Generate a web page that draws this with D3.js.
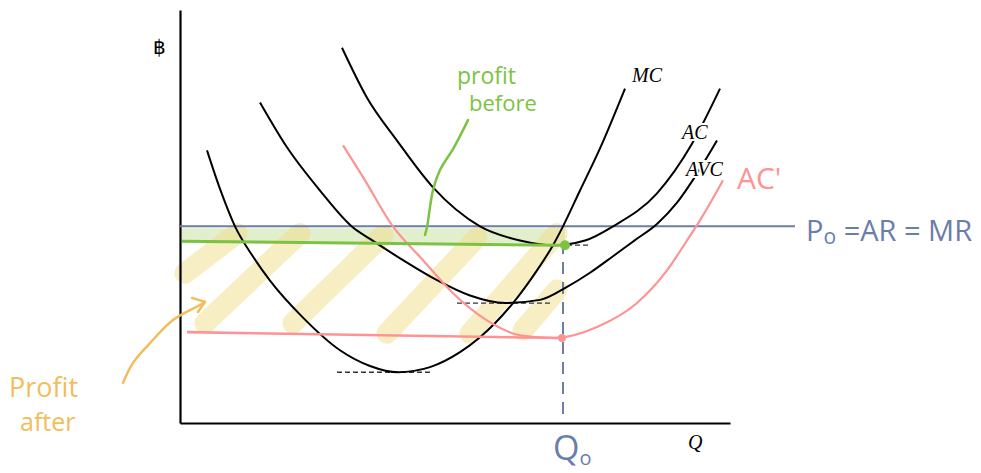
<!DOCTYPE html>
<html>
<head>
<meta charset="utf-8">
<script src="https://cdn.jsdelivr.net/npm/d3@7"></script>
<style>
  body { margin: 0; background: #fff; }
  svg { display: block; }
</style>
</head>
<body>
<div id="chart"></div>
<script>
// cost curves, [Q, price]
const mcCurve = [[5.4,69.3],[8,59.5],[11,50],[14.5,42.5],[18,36.2],[24.6,26.8],[32,18.5],[38,14.5],[43.6,12.9],[50,14.2],[56,18],[60,21.8],[66.6,30.5],[71.4,38.8],[74.6,45.2],[76.6,50],[80,59.1],[84,69.8],[89,85]];
const acCurve = [[32.4,95.4],[37.4,82.7],[43.4,71.8],[50.6,59.9],[60,50],[68,46.4],[74.6,45.2],[81,46.4],[86.6,50],[95.4,58.4],[102.4,71],[108,85]];
const avcCurve = [[16,81.5],[21.4,70.1],[28,59.1],[34.6,49.7],[38,46.8],[44.6,41.4],[51.4,36.3],[58,32.4],[65,30.5],[72,31.3],[77.4,34.6],[82,38.2],[86.6,42.4],[91,46.5],[95.4,50.6],[99.4,56],[102.6,61.8],[107.4,71.8]];
const acPrimeCurve = [[32.6,70.6],[37,61.7],[42.4,50.3],[48.6,41.4],[54.6,33],[61.4,26.1],[68,22.3],[75,21.6],[83.4,24.4],[91.4,30.5],[97.4,38.8],[101.4,46.4],[104,51.5],[108.6,61.7]];

const priceP0 = 50;
const quantityQ0 = 76.6;
const profitBefore = {q0: 0.4, q1: 77, top: 49.5, bottom: 45.7};
const greenLine = [[0.4,46.2],[77,45.2]];
const pinkLine = [[1.4,23.1],[76.4,21.6]];
// dashed minimum markers: [q0, q1, p]
const minMarks = [[64.6,82,45.2],[55.4,74,30.5],[31.4,50,12.9]];
// hatch strokes for "profit after"
const hatch = [
    [[1,38.1],[11.4,48.2]],
    [[5,25.4],[24,48.2]],
    [[22.6,25.4],[40.6,47.7]],
    [[41.4,22.8],[59.4,47.2]],
    [[58,22.8],[75.4,48.2]],
    [[68.6,23.6],[75.4,33.8]]
];
const greenPointer = [[57.6,77],[54.8,70.1],[52,64.3],[50.6,59.2],[49.4,49.8],[49,47.8]];
const orangeArrow = [[-11.4,10.2],[-9.4,15.3],[-6,20.3],[-1.4,26.2],[4,30],[5,30.8]];
const arrowHead = [[2.4,31.8],[5,30.8],[3.6,28.2]];

const width = 981, height = 473;
const blue = "#6b7dab", green = "#7cc243", pink = "#ff9393", orange = "#f2bd5a";

const svg = d3.select("#chart").append("svg")
    .attr("width", width)
    .attr("height", height);

const x = d3.scaleLinear().domain([0, 110]).range([180, 730]);
const y = d3.scaleLinear().domain([0, 105]).range([423, 10]);

const line = d3.line().x(d => x(d[0])).y(d => y(d[1]));
const smooth = d3.line().x(d => x(d[0])).y(d => y(d[1])).curve(d3.curveMonotoneX);
const sketch = d3.line().x(d => x(d[0])).y(d => y(d[1])).curve(d3.curveCatmullRom);

// profit before band
svg.append("rect")
    .attr("x", x(profitBefore.q0))
    .attr("y", y(profitBefore.top))
    .attr("width", x(profitBefore.q1) - x(profitBefore.q0))
    .attr("height", y(profitBefore.bottom) - y(profitBefore.top))
    .attr("fill", "#c5e09a")
    .attr("opacity", 0.5);

// hatch
svg.append("g").selectAll("path")
    .data(hatch)
    .enter()
    .append("path")
    .attr("d", line)
    .attr("stroke", "#f2de8a")
    .attr("stroke-opacity", 0.5)
    .attr("stroke-width", 21)
    .attr("stroke-linecap", "round")
    .attr("fill", "none");

// axes
svg.append("g")
    .attr("transform", `translate(${x(0)},0)`)
    .call(d3.axisLeft(y).ticks(0).tickSizeOuter(0))
    .call(g => g.select(".domain").attr("stroke", "#000").attr("stroke-width", 2.2));
svg.append("g")
    .attr("transform", `translate(0,${y(0)})`)
    .call(d3.axisBottom(x).ticks(0).tickSizeOuter(0))
    .call(g => g.select(".domain").attr("stroke", "#000").attr("stroke-width", 2.2));

// dashed minimum lines
svg.append("g").selectAll("line")
    .data(minMarks)
    .enter()
    .append("line")
    .attr("x1", d => x(d[0]))
    .attr("x2", d => x(d[1]))
    .attr("y1", d => y(d[2]))
    .attr("y2", d => y(d[2]))
    .attr("stroke", "#333")
    .attr("stroke-width", 1.3)
    .attr("stroke-dasharray", "5,3");

// Q0 dashed vertical
svg.append("line")
    .attr("x1", x(quantityQ0)).attr("x2", x(quantityQ0))
    .attr("y1", y(46)).attr("y2", y(1.8))
    .attr("stroke", blue)
    .attr("stroke-width", 2)
    .attr("stroke-dasharray", "12,8");

// P0 = AR = MR
svg.append("line")
    .attr("x1", x(0)).attr("x2", x(123))
    .attr("y1", y(priceP0)).attr("y2", y(priceP0))
    .attr("stroke", blue)
    .attr("stroke-width", 2);

// cost curves
[mcCurve, acCurve, avcCurve].forEach(c => {
    svg.append("path")
        .attr("d", smooth(c))
        .attr("fill", "none")
        .attr("stroke", "#000")
        .attr("stroke-width", 2);
});
svg.append("path")
    .attr("d", smooth(acPrimeCurve))
    .attr("fill", "none")
    .attr("stroke", pink)
    .attr("stroke-width", 2.2);

// flat lines
svg.append("path").attr("d", line(pinkLine))
    .attr("stroke", pink).attr("stroke-width", 2.6).attr("fill", "none");
svg.append("path").attr("d", line(greenLine))
    .attr("stroke", green).attr("stroke-width", 3).attr("fill", "none");

svg.append("circle")
    .attr("cx", x(greenLine[1][0])).attr("cy", y(greenLine[1][1]))
    .attr("r", 5).attr("fill", green);
svg.append("circle")
    .attr("cx", x(pinkLine[1][0])).attr("cy", y(pinkLine[1][1]))
    .attr("r", 4).attr("fill", pink);

// pointers
svg.append("path").attr("d", sketch(greenPointer))
    .attr("stroke", green).attr("stroke-width", 2.5).attr("fill", "none").attr("stroke-linecap", "round");
svg.append("path").attr("d", sketch(orangeArrow))
    .attr("stroke", orange).attr("stroke-width", 2.5).attr("fill", "none").attr("stroke-linecap", "round");
svg.append("path").attr("d", line(arrowHead))
    .attr("stroke", orange).attr("stroke-width", 2.5).attr("fill", "none")
    .attr("stroke-linecap", "round").attr("stroke-linejoin", "round");

// curve labels
const serif = "'Liberation Serif', 'DejaVu Serif', serif";
function italicLabel(txt, px, py) {
    svg.append("text")
        .attr("x", px).attr("y", py)
        .attr("font-family", serif)
        .attr("font-style", "italic")
        .attr("font-size", 20)
        .attr("fill", "#000")
        .attr("stroke", "#fff")
        .attr("stroke-width", 4)
        .attr("paint-order", "stroke")
        .text(txt);
}
italicLabel("MC", 632, 82);
italicLabel("AC", 682, 139);
italicLabel("AVC", 686, 176);
italicLabel("Q", 688, 449);

svg.append("text")
    .attr("x", 153).attr("y", 54)
    .attr("font-family", "'DejaVu Sans', sans-serif")
    .attr("font-size", 20)
    .text("฿");

const hand = "'Open Sans', 'Noto Sans', sans-serif";

svg.append("text")
    .attr("x", 737).attr("y", 189)
    .attr("font-family", hand).attr("font-size", 30)
    .attr("fill", pink)
    .text("AC'");

const p0 = svg.append("text")
    .attr("x", 806).attr("y", 241)
    .attr("font-family", hand).attr("font-size", 29)
    .attr("fill", blue);
p0.append("tspan").text("P");
p0.append("tspan").attr("font-size", 21).attr("dy", 3).text("o");
p0.append("tspan").attr("dy", -3).text(" =AR = MR");

const q0 = svg.append("text")
    .attr("x", 553).attr("y", 460)
    .attr("font-family", hand).attr("font-size", 34)
    .attr("fill", blue);
q0.append("tspan").text("Q");
q0.append("tspan").attr("font-size", 20).attr("dy", 5).text("o");

svg.append("text")
    .attr("x", 457).attr("y", 84)
    .attr("font-family", hand).attr("font-size", 23)
    .attr("fill", green)
    .text("profit");
svg.append("text")
    .attr("x", 469).attr("y", 111)
    .attr("font-family", hand).attr("font-size", 22)
    .attr("fill", green)
    .text("before");

svg.append("text")
    .attr("x", 9).attr("y", 397)
    .attr("font-family", hand).attr("font-size", 27)
    .attr("fill", orange)
    .text("Profit");
svg.append("text")
    .attr("x", 20).attr("y", 431)
    .attr("font-family", hand).attr("font-size", 25)
    .attr("fill", orange)
    .text("after");
</script>
</body>
</html>
